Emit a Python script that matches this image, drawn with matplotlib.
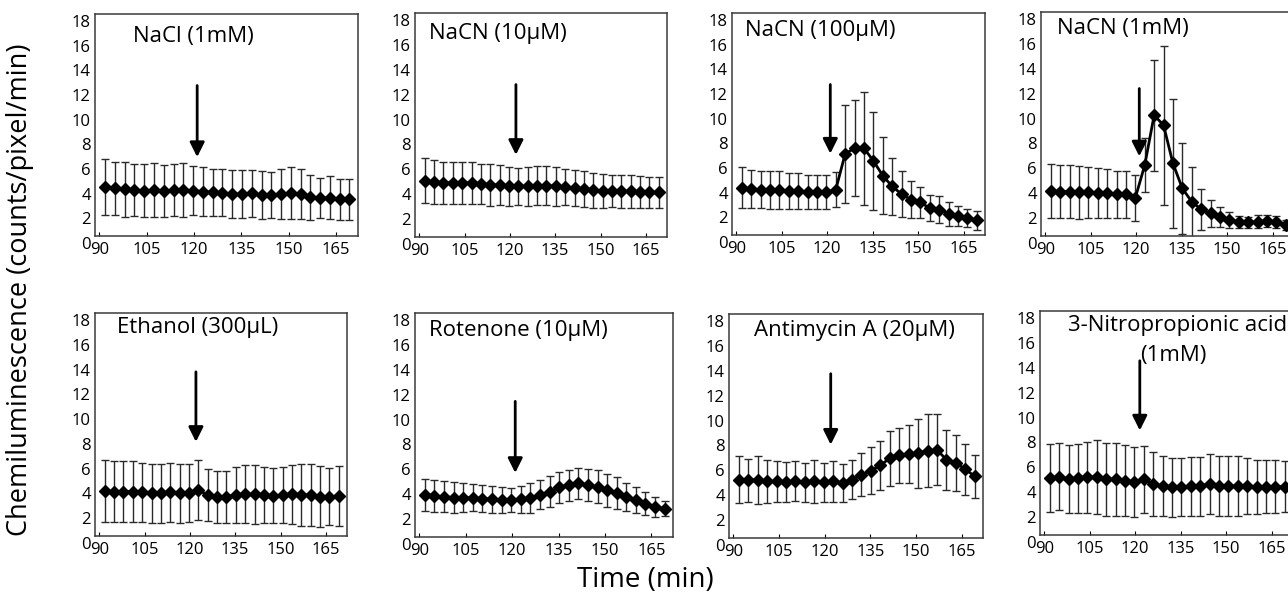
import matplotlib
matplotlib.use("Agg")
import matplotlib.pyplot as plt
import matplotlib.transforms as mtransforms

plt.rcParams['font.family'] = ['Open Sans', 'DejaVu Sans']

# sampling times (min), same for every panel
times = [91.8, 94.9, 98.0, 101.1, 104.2, 107.3, 110.4, 113.5, 116.6, 119.7,
         122.8, 125.9, 129.0, 132.1, 135.2, 138.3, 141.4, 144.5, 147.6, 150.7,
         153.8, 156.9, 160.0, 163.1, 166.2, 169.3]

# mean chemiluminescence and SD for each treatment
nacl_mean = [4.0, 3.86, 3.78, 3.73, 3.68, 3.73, 3.65, 3.73, 3.73, 3.68, 3.6, 3.54, 3.51,
             3.4, 3.4, 3.46, 3.32, 3.32, 3.4, 3.46, 3.4, 3.14, 3.05, 3.1, 2.97, 2.97]
nacl_sd = [2.26, 2.16, 2.2, 2.1, 2.16, 2.2, 2.13, 2.1, 2.15, 2.0, 1.97, 1.92, 1.92,
           1.96, 1.93, 1.89, 1.93, 1.9, 2.03, 2.12, 2.03, 1.81, 1.62, 1.76, 1.65, 1.65]

nacn10_mean = [4.53, 4.42, 4.34, 4.34, 4.34, 4.34, 4.29, 4.21, 4.16, 4.07, 4.07, 4.07, 4.13,
               4.13, 4.07, 4.02, 3.94, 3.86, 3.75, 3.7, 3.7, 3.67, 3.67, 3.62, 3.59, 3.59]
nacn10_sd = [1.81, 1.73, 1.7, 1.68, 1.65, 1.65, 1.61, 1.68, 1.61, 1.57, 1.5, 1.54, 1.54,
             1.58, 1.57, 1.47, 1.47, 1.41, 1.43, 1.33, 1.26, 1.3, 1.3, 1.27, 1.27, 1.27]

nacn100_mean = [3.85, 3.72, 3.67, 3.67, 3.61, 3.58, 3.58, 3.48, 3.48, 3.48, 3.67, 6.58, 7.04,
                7.04, 6.01, 4.82, 3.94, 3.32, 2.86, 2.64, 2.18, 2.05, 1.73, 1.51, 1.37, 1.19]
nacn100_sd = [1.66, 1.55, 1.52, 1.55, 1.54, 1.48, 1.46, 1.37, 1.35, 1.35, 1.44, 3.98, 3.91,
              4.57, 3.98, 3.1, 2.33, 1.89, 1.48, 1.28, 1.04, 1.08, 0.97, 0.82, 0.71, 0.78]

nacn1m_mean = [3.61, 3.56, 3.56, 3.5, 3.5, 3.48, 3.42, 3.34, 3.34, 3.07, 5.7, 9.71, 8.9,
               5.83, 3.82, 2.75, 2.14, 1.82, 1.5, 1.28, 1.15, 1.1, 1.15, 1.2, 1.1, 0.88]
nacn1m_sd = [2.17, 2.15, 2.11, 2.11, 2.05, 2.02, 1.94, 1.9, 1.87, 1.83, 2.19, 4.45, 6.39,
             5.19, 3.69, 2.81, 1.63, 1.11, 0.8, 0.64, 0.47, 0.44, 0.53, 0.51, 0.49, 0.37]

ethanol_mean = [3.63, 3.58, 3.58, 3.58, 3.52, 3.44, 3.44, 3.52, 3.44, 3.44, 3.71, 3.31, 3.17,
                3.17, 3.31, 3.36, 3.36, 3.31, 3.23, 3.31, 3.36, 3.31, 3.31, 3.17, 3.17, 3.23]
ethanol_sd = [2.51, 2.45, 2.46, 2.46, 2.39, 2.38, 2.38, 2.37, 2.38, 2.35, 2.41, 2.11, 2.1,
              2.1, 2.24, 2.35, 2.38, 2.24, 2.22, 2.24, 2.41, 2.49, 2.5, 2.45, 2.31, 2.42]

rotenone_mean = [3.36, 3.28, 3.23, 3.17, 3.17, 3.15, 3.09, 3.04, 2.96, 2.96, 3.04, 3.15, 3.41,
                 3.63, 3.98, 4.17, 4.3, 4.17, 4.03, 3.76, 3.55, 3.23, 2.96, 2.69, 2.42, 2.28]
rotenone_sd = [1.3, 1.28, 1.24, 1.21, 1.14, 1.1, 1.1, 1.08, 1.02, 0.99, 1.08, 1.21, 1.17,
               1.24, 1.28, 1.24, 1.25, 1.28, 1.32, 1.34, 1.28, 1.13, 1.03, 0.91, 0.78, 0.63]

antimycin_mean = [4.68, 4.63, 4.68, 4.55, 4.55, 4.49, 4.55, 4.47, 4.55, 4.47, 4.55, 4.41, 4.68,
                  5.08, 5.4, 5.83, 6.42, 6.63, 6.76, 6.82, 7.01, 7.09, 6.28, 6.02, 5.53, 4.95]
antimycin_sd = [1.9, 1.7, 1.94, 1.7, 1.63, 1.58, 1.6, 1.56, 1.72, 1.56, 1.66, 1.52, 1.56,
                1.74, 1.9, 1.94, 2.21, 2.23, 2.31, 2.77, 2.94, 2.85, 2.43, 2.27, 2.05, 1.74]

npa_mean = [4.55, 4.68, 4.47, 4.55, 4.63, 4.68, 4.49, 4.47, 4.36, 4.28, 4.49, 4.06, 3.93,
            3.82, 3.88, 3.93, 3.93, 4.09, 3.93, 3.93, 3.93, 3.93, 3.82, 3.88, 3.88, 3.88]
npa_sd = [2.74, 2.7, 2.74, 2.77, 2.87, 2.98, 2.94, 2.91, 2.85, 2.81, 2.7, 2.57, 2.43,
          2.37, 2.34, 2.37, 2.37, 2.42, 2.41, 2.43, 2.41, 2.27, 2.17, 2.14, 2.13, 2.03]

titles = ["NaCl (1mM)", "NaCN (10\u03bcM)", "NaCN (100\u03bcM)", "NaCN (1mM)",
          "Ethanol (300\u03bcL)", "Rotenone (10\u03bcM)", "Antimycin A (20\u03bcM)",
          "3-Nitropropionic acid"]
means = [nacl_mean, nacn10_mean, nacn100_mean, nacn1m_mean,
         ethanol_mean, rotenone_mean, antimycin_mean, npa_mean]
sds = [nacl_sd, nacn10_sd, nacn100_sd, nacn1m_sd,
       ethanol_sd, rotenone_sd, antimycin_sd, npa_sd]

# treatment arrow: time, tail, tip
arrows = [(121, 12.2, 6.4), (122, 12.25, 6.6), (121, 12.2, 6.6), (121, 11.85, 6.4),
          (122, 13.25, 7.6), (121, 10.9, 5.15), (122, 13.2, 7.5), (121.5, 14.0, 8.4)]

W, H = 1288, 603
fig = plt.figure(figsize=(W / 100, H / 100), dpi=100)

# pixel boxes (left, right, top, bottom)
boxes = [(95, 358, 14, 236), (415, 667, 13, 237), (732, 985, 13, 235), (1041, 1294, 12, 236),
         (95, 347, 313, 536), (415, 673, 313, 537), (729, 983, 314, 538), (1040, 1293, 311, 535)]
title_pos = [(0.143, 0.90), (0.057, 0.91), (0.053, 0.922), (0.063, 0.926),
             (0.089, 0.937), (0.055, 0.922), (0.10, 0.926), (0.11, 0.936)]

ylab_shift = mtransforms.ScaledTranslation(0, -0.07, fig.dpi_scale_trans)

for i in range(8):
    l, r, t, b = boxes[i]
    ax = fig.add_axes([l / W, 1 - b / H, (r - l) / W, (b - t) / H])
    ax.errorbar(times, means[i], yerr=sds[i], fmt='none', ecolor='#2a2a2a',
                elinewidth=1, capsize=3, capthick=1)
    ax.plot(times, means[i], color='black', lw=2, marker='D', ms=6.5)
    ax.set_xlim(88.6, 172)
    ax.set_ylim(0, 18)
    ax.set_xticks([90, 105, 120, 135, 150, 165])
    ax.set_yticks(range(0, 19, 2))
    ax.tick_params(axis='x', direction='in', length=3, labelsize=12, pad=4)
    ax.tick_params(axis='y', direction='in', length=0, labelsize=12, pad=3)
    for lab in ax.get_yticklabels():
        lab.set_transform(lab.get_transform() + ylab_shift)
    for s in ax.spines.values():
        s.set_color('#3a3a3a')
        s.set_linewidth(1.1)
    tx, ty = title_pos[i]
    ax.text(tx, ty, titles[i], transform=ax.transAxes, fontsize=16,
            va='center', ha='left')
    if i == 7:
        ax.text(0.395, 0.80, "(1mM)", transform=ax.transAxes,
                fontsize=16, va='center', ha='left')
    ax_x, tail, tip = arrows[i]
    ax.annotate('', xy=(ax_x, tip), xytext=(ax_x, tail),
                arrowprops=dict(arrowstyle='-|>,head_length=0.4,head_width=0.2',
                                color='black', lw=2, mutation_scale=22,
                                shrinkA=0, shrinkB=0))

fig.text(20 / W, 1 - 290 / H, "Chemiluminescence (counts/pixel/min)", rotation=90,
         fontsize=19.5, ha='center', va='center')
fig.text(645 / W, 1 - 580 / H, "Time (min)", fontsize=20, ha='center', va='center')

fig.savefig("out.png", dpi=100)
